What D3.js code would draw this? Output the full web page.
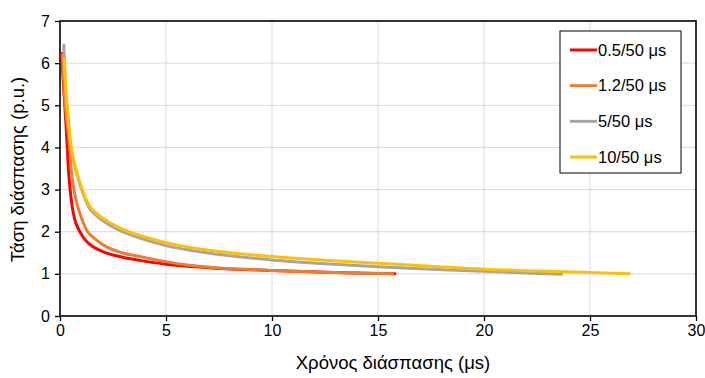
<!DOCTYPE html>
<html>
<head>
<meta charset="utf-8">
<script src="https://cdn.jsdelivr.net/npm/d3@7"></script>
<style>
  html, body { margin: 0; padding: 0; background: #fff; }
  svg { display: block; font-family: "Liberation Sans", Arial, sans-serif; }
</style>
</head>
<body>
<svg id="chart" width="705" height="378"></svg>
<script>
// Breakdown voltage (p.u.) against time to breakdown (μs) for four impulse shapes
const seriesNames = ["0.5/50 μs", "1.2/50 μs", "5/50 μs", "10/50 μs"];
const seriesColors = ["#ff0000", "#ed7d31", "#a5a5a5", "#ffc000"];

const t05 = [0.08, 0.16, 0.24, 0.35, 0.4, 0.48, 0.6, 0.75, 0.97, 1.2, 1.5, 2.2, 3.0, 3.77, 5, 6, 7.5, 10, 12.5, 15, 15.8];
const v05 = [6.23, 5.5, 4.89, 3.94, 3.46, 2.99, 2.52, 2.2, 1.97, 1.8, 1.66, 1.49, 1.39, 1.32, 1.23, 1.18, 1.13, 1.08, 1.04, 1.01, 1.0];

const t12 = [0.12, 0.25, 0.47, 0.53, 0.66, 0.88, 1.3, 1.6, 2.2, 3.0, 3.77, 5, 6, 7.5, 10, 12.5, 15, 15.7];
const v12 = [6.2, 5.0, 3.94, 3.46, 2.99, 2.52, 2.0, 1.85, 1.64, 1.49, 1.41, 1.29, 1.21, 1.14, 1.08, 1.04, 1.01, 1.0];

const t5 = [0.18, 0.28, 0.4, 0.53, 0.75, 1.03, 1.45, 2.2, 3.0, 3.77, 5, 6, 7.5, 10, 12.5, 15, 17.5, 20, 22, 23.66];
const v5 = [6.43, 5.3, 4.6, 3.94, 3.46, 2.99, 2.52, 2.2, 1.99, 1.85, 1.67, 1.57, 1.46, 1.33, 1.24, 1.17, 1.11, 1.06, 1.02, 0.99];

const t10 = [0.2, 0.3, 0.4, 0.55, 0.77, 1.06, 1.48, 2.2, 3.0, 3.77, 5, 6, 7.5, 10, 12.5, 15, 17.5, 20, 22.5, 25, 26.85];
const v10 = [6.09, 5.2, 4.6, 3.94, 3.46, 2.99, 2.55, 2.26, 2.05, 1.91, 1.74, 1.64, 1.53, 1.41, 1.32, 1.25, 1.18, 1.11, 1.07, 1.03, 1.0];

const xTicks = [0, 5, 10, 15, 20, 25, 30];
const yTicks = [0, 1, 2, 3, 4, 5, 6, 7];

const xTitle = "Χρόνος διάσπασης (μs)";
const yTitle = "Τάση διάσπασης (p.u.)";

const series = [
  { name: seriesNames[0], color: seriesColors[0], t: t05, v: v05 },
  { name: seriesNames[1], color: seriesColors[1], t: t12, v: v12 },
  { name: seriesNames[2], color: seriesColors[2], t: t5, v: v5 },
  { name: seriesNames[3], color: seriesColors[3], t: t10, v: v10 }
];

const svg = d3.select("#chart");
const plot = { left: 60, right: 696, top: 21, bottom: 316 };

const x = d3.scaleLinear().domain([0, 30]).range([plot.left, plot.right]);
const y = d3.scaleLinear().domain([0, 7]).range([plot.bottom, plot.top]);

// gridlines
const grid = svg.append("g");
grid.selectAll("line.h").data(yTicks.slice(1, -1)).join("line")
  .attr("x1", plot.left).attr("x2", plot.right)
  .attr("y1", d => y(d)).attr("y2", d => y(d))
  .attr("stroke", "#d9d9d9").attr("stroke-width", 1);
grid.selectAll("line.v").data(xTicks.slice(1, -1)).join("line")
  .attr("y1", plot.top).attr("y2", plot.bottom)
  .attr("x1", d => x(d)).attr("x2", d => x(d))
  .attr("stroke", "#d9d9d9").attr("stroke-width", 1);

// axes
const fmt = d3.format("d");
const xAxis = svg.append("g")
  .attr("transform", `translate(0,${plot.bottom})`)
  .call(d3.axisBottom(x).tickValues(xTicks).tickFormat(fmt).tickSize(5).tickPadding(4).tickSizeOuter(0));
const yAxis = svg.append("g")
  .attr("transform", `translate(${plot.left},0)`)
  .call(d3.axisLeft(y).tickValues(yTicks).tickFormat(fmt).tickSize(5).tickPadding(5).tickSizeOuter(0));
[xAxis, yAxis].forEach(a => {
  a.select(".domain").remove();
  a.selectAll("line").attr("stroke", "#000").attr("stroke-width", 1.3);
  a.selectAll("text").attr("font-size", 16).attr("fill", "#000")
    .attr("font-family", "Liberation Sans, Arial, sans-serif");
});

// plot frame
svg.append("rect")
  .attr("x", plot.left).attr("y", plot.top)
  .attr("width", plot.right - plot.left).attr("height", plot.bottom - plot.top)
  .attr("fill", "none").attr("stroke", "#000").attr("stroke-width", 1.6);

// curves
const line = d3.line()
  .x(d => x(d[0])).y(d => y(d[1]))
  .curve(d3.curveCatmullRom.alpha(0.5));
const curves = svg.append("g");
series.forEach(s => {
  curves.append("path")
    .datum(s.t.map((tv, i) => [tv, s.v[i]]))
    .attr("d", line)
    .attr("fill", "none")
    .attr("stroke", s.color)
    .attr("stroke-width", 3)
    .attr("stroke-linejoin", "round")
    .attr("stroke-linecap", "round");
});

// axis titles
svg.append("text")
  .attr("x", (plot.left + plot.right) / 2 + 15).attr("y", 369)
  .attr("text-anchor", "middle").attr("font-size", 18.5).attr("fill", "#000")
  .text(xTitle);
svg.append("text")
  .attr("transform", `translate(24,${(plot.top + plot.bottom) / 2 + 1}) rotate(-90)`)
  .attr("text-anchor", "middle").attr("font-size", 18.5).attr("fill", "#000")
  .text(yTitle);

// legend
const legend = svg.append("g");
legend.append("rect")
  .attr("x", 560).attr("y", 31).attr("width", 121).attr("height", 142)
  .attr("fill", "#fff").attr("stroke", "#000").attr("stroke-width", 1);
const rowY = d3.scalePoint().domain(seriesNames).range([50, 157]);
series.forEach(s => {
  const yy = rowY(s.name);
  legend.append("line")
    .attr("x1", 570).attr("x2", 597).attr("y1", yy).attr("y2", yy)
    .attr("stroke", s.color).attr("stroke-width", 3);
  legend.append("text")
    .attr("x", 598).attr("y", yy).attr("dy", "0.35em")
    .attr("font-size", 16.5).attr("fill", "#000")
    .text(s.name);
});
</script>
</body>
</html>
